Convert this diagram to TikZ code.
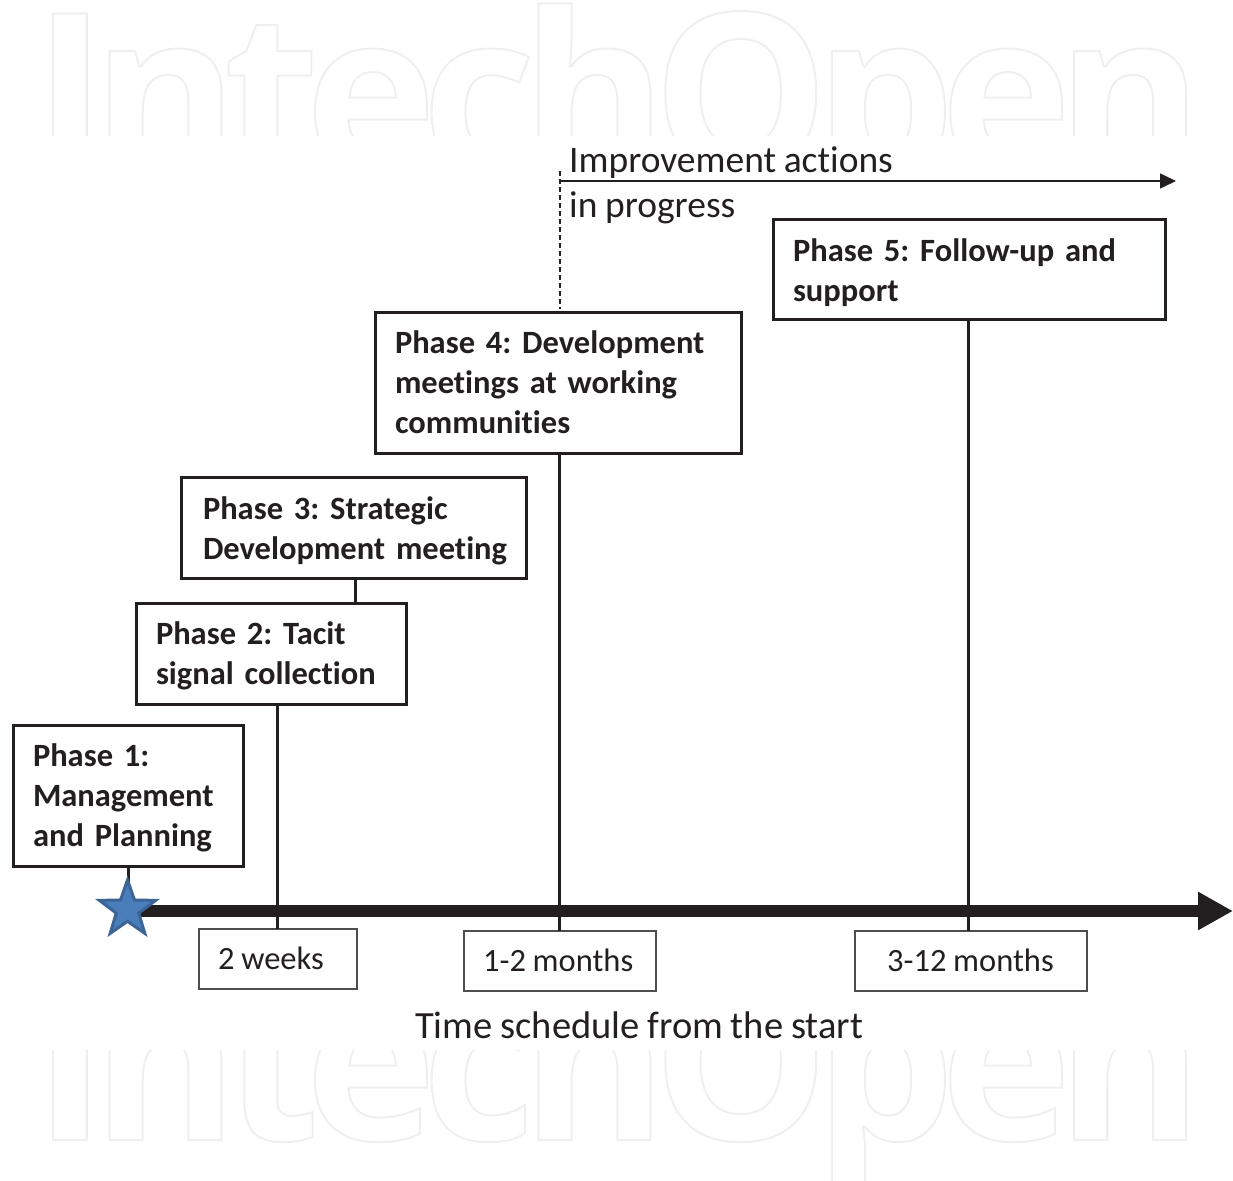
\documentclass[tikz,border=0pt]{standalone}
\usepackage{fontspec}
\setmainfont[WordSpace=0.9,Ligatures=NoCommon]{Carlito}
\newfontfamily\wmfont[LetterSpace=-6.6]{Open Sans Bold}
\usetikzlibrary{shapes.geometric,arrows.meta}
\definecolor{ink}{HTML}{231F20}
\definecolor{starfill}{HTML}{4A7EBB}
\definecolor{staredge}{HTML}{3A6596}
\newcommand{\wmoutline}[1]{\special{pdf:code q 1 Tr 2 w 0.937 0.937 0.937 RG}{\fontsize{222}{222}\wmfont #1}\special{pdf:code Q}}
\newcommand{\topgap}[1]{\rule{0pt}{#1pt}}
\tikzset{
  x=1pt,y=-1pt,
  phasebox/.style={draw=ink,line width=3pt,fill=white,anchor=north west,outer sep=0pt,inner sep=0pt,inner xsep=20pt,align=left,text=ink,font=\fontsize{32.5}{40}\selectfont\bfseries\frenchspacing\spaceskip 6pt\relax},
  timebox/.style={draw=ink!80,line width=1.5pt,fill=white,anchor=north west,outer sep=0pt,inner sep=0pt},
  timelabel/.style={anchor=base west,inner sep=0pt,text=ink,font=\fontsize{32.5}{36}\selectfont},
  stem/.style={draw=ink,line width=3pt},
  plain/.style={anchor=base west,inner sep=0pt,text=ink,font=\fontsize{37.5}{40}\selectfont}
}
\begin{document}
\begin{tikzpicture}
\useasboundingbox (0,0) rectangle (1233,1180);
% watermark
\begin{scope}
\clip (0,0) rectangle (1233,135);
\node[anchor=base west,inner sep=0pt] (wmtop) at (33,172) {\wmoutline{IntechOpen}};
\end{scope}
\begin{scope}
\clip (0,1050) rectangle (1233,1180);
\node[anchor=base west,inner sep=0pt] (wmbottom) at (33,1140) {\wmoutline{IntechOpen}};
\end{scope}
% named nodes
\node[phasebox,minimum width=230pt,minimum height=141pt,text width=190pt] (p1) at (13,725) {\topgap{28}Phase 1:\\Management\\and Planning};
\node[phasebox,minimum width=270pt,minimum height=101pt,text width=230pt] (p2) at (136,603) {\topgap{28}Phase 2: Tacit\\signal collection};
\node[phasebox,minimum width=345pt,minimum height=101pt,text width=305pt] (p3) at (181,477) {\topgap{29}\hspace*{2pt}\mbox{Phase 3: Strategic}\\\hspace*{2pt}\mbox{Development meeting}};
\node[phasebox,minimum width=366pt,minimum height=141pt,text width=326pt] (p4) at (375,312) {Phase 4: Development\\meetings at working\\communities};
\node[phasebox,minimum width=392pt,minimum height=100pt,text width=352pt] (p5) at (773,219) {\topgap{31}Phase 5: Follow-up and\\support};
\node[timebox,minimum width=158pt,minimum height=60pt] (t1) at (199,929) {};
\node[timebox,minimum width=192pt,minimum height=60pt] (t2) at (464,931) {};
\node[timebox,minimum width=232pt,minimum height=60pt] (t3) at (855,931) {};
\node[timelabel] (t1l) at (218,969) {2 weeks};
\node[timelabel] (t2l) at (483,971) {1-2 months};
\node[timelabel] (t3l) at (887,971) {3-12 months};
\coordinate (axstart) at (140,911);
\coordinate (axend) at (1233,911);
\coordinate (dashtop) at (560,171);
\coordinate (dashbot) at (560,309);
\coordinate (actstart) at (560,181);
\coordinate (actend) at (1176,181);
% connectors
\draw[stem] (p1.south -| 128,0) -- (128,905);
\draw[stem] (p2.south -| 277,0) -- (t1.north -| 277,0);
\draw[stem] (p3.south -| 355,0) -- (p2.north -| 355,0);
\draw[stem] (p4.south -| 559,0) -- (t2.north -| 559,0);
\draw[stem] (p5.south -| 968,0) -- (t3.north -| 968,0);
\draw[draw=ink,line width=12pt,-{Triangle[length=35pt,width=36pt]}] (axstart) -- (axend);
\node[star,star points=5,star point ratio=2.5,minimum size=59pt,inner sep=0pt,fill=starfill,draw=staredge,line width=3pt] (st) at (127.5,909.5) {};
\draw[draw=ink,line width=1.3pt,dash pattern=on 5pt off 3pt] (dashtop) -- (dashbot);
\draw[draw=ink,line width=1.5pt,-{Triangle[length=16pt,width=15pt]}] (actstart) -- (actend);
% labels
\node[plain] (imp) at (569,172) {Improvement actions};
\node[plain] (prog) at (569,217) {in progress};
\node[plain,font=\fontsize{38.5}{40}\selectfont] (sched) at (415,1038) {Time schedule from the start};
\end{tikzpicture}
\end{document}
